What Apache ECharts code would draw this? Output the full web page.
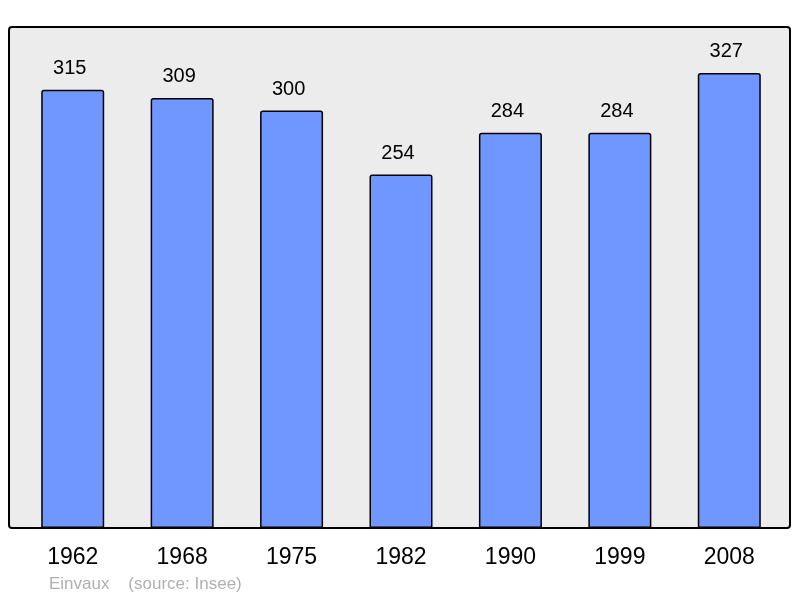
<!DOCTYPE html>
<html>
<head>
<meta charset="utf-8">
<script src="https://cdn.jsdelivr.net/npm/echarts@6/dist/echarts.min.js"></script>
<style>
  html, body { margin: 0; padding: 0; background: #ffffff; }
  #container { width: 800px; height: 598px; }
</style>
</head>
<body>
<div id="container"></div>
<script>
var dom = document.getElementById('container');
var myChart = echarts.init(dom, null, { renderer: 'canvas' });

// population by census year
var years = ['1962', '1968', '1975', '1982', '1990', '1999', '2008'];
var population = [315, 309, 300, 254, 284, 284, 327];

var option = {
    backgroundColor: '#ffffff',
    animation: false,
    graphic: [
        {
            type: 'rect',
            z: -10,
            shape: { x: 9, y: 27, width: 781, height: 501, r: 3 },
            style: { fill: '#ececec', stroke: '#000000', lineWidth: 2 }
        },
        {
            type: 'text',
            left: 49,
            top: 576,
            style: {
                text: 'Einvaux    (source: Insee)',
                fill: '#b0b0b0',
                font: '17px "Liberation Sans", Arial, sans-serif'
            }
        }
    ],
    grid: { left: 18, width: 766, top: 27, bottom: 70 },
    xAxis: {
        type: 'category',
        data: years,
        axisLine: { show: false },
        axisTick: { show: false },
        axisLabel: {
            color: '#000',
            fontSize: 23,
            margin: 18,
            fontFamily: '"Liberation Sans", Arial, sans-serif'
        }
    },
    yAxis: {
        type: 'value',
        min: 0,
        max: 360,
        show: false,
        splitLine: { show: false }
    },
    series: [
        {
            type: 'bar',
            data: population,
            barWidth: 63,
            itemStyle: {
                color: '#7096ff',
                borderColor: '#000000',
                borderWidth: 1.5,
                borderRadius: [2, 2, 0, 0]
            },
            label: {
                show: true,
                position: 'top',
                distance: 11,
                offset: [-3, 0],
                color: '#000',
                fontSize: 20,
                fontFamily: '"Liberation Sans", Arial, sans-serif'
            }
        }
    ]
};

myChart.setOption(option);
window.addEventListener('resize', myChart.resize);
</script>
</body>
</html>
